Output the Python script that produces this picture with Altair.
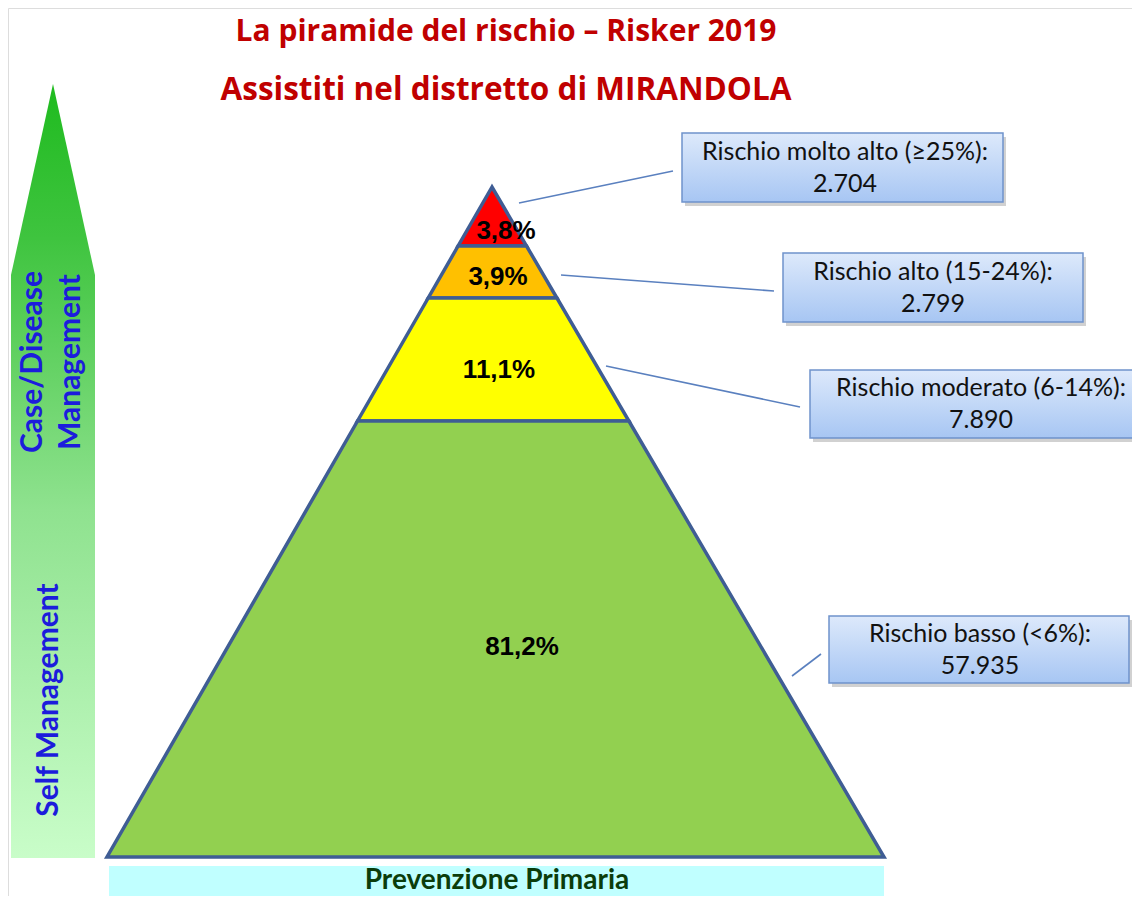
import altair as alt
import pandas as pd

# ---------------- data ----------------
title_lines = ["La piramide del rischio – Risker 2019", "Assistiti nel distretto di MIRANDOLA"]
layers = ["molto alto", "alto", "moderato", "basso"]
layer_colors = ["#ff0000", "#ffc000", "#ffff00", "#92d050"]
percent_labels = ["3,8%", "3,9%", "11,1%", "81,2%"]
box_line1 = ["Rischio molto alto (≥25%):", "Rischio alto (15-24%):", "Rischio moderato (6-14%):", "Rischio basso (<6%):"]
box_line2 = ["2.704", "2.799", "7.890", "57.935"]

# pyramid layout (page pixels)
apex = (492, 187)
base_y = 857
base_left, base_right = 107, 884
layer_bounds = [187, 246, 298, 421, 857]          # y of boundaries, top to bottom
pct_pos_x = [506, 498, 499, 522]
pct_pos_y = [231, 277, 370, 647]

# boxes: x, x2, y, y2
box_x = [682, 783, 810, 829]
box_x2 = [1003, 1083, 1142, 1129]
box_y = [133, 253, 370, 616]
box_y2 = [202, 322, 438, 683]
text_cx = [845, 933, 981, 980]
# callout lines
call_x = [519, 561, 606, 792]
call_y = [203, 275, 366, 676]
call_x2 = [673, 774, 800, 821]
call_y2 = [171, 291, 407, 654]

# left arrow outline
arrow_y = [84, 275, 858]
arrow_xl = [53, 11, 11]
arrow_xr = [53, 95, 95]

W, H = 1124, 888
xs = alt.Scale(domain=[8, 8 + W], range=[0, W])
ys = alt.Scale(domain=[8, 8 + H], range=[0, H])


def X(f):
    return alt.X(f, type="quantitative", scale=xs, axis=None)


def Y(f):
    return alt.Y(f, type="quantitative", scale=ys, axis=None)


def left_edge(y):
    return apex[0] + (base_left - apex[0]) * (y - apex[1]) / (base_y - apex[1])


def right_edge(y):
    return apex[0] + (base_right - apex[0]) * (y - apex[1]) / (base_y - apex[1])


rows = []
for i, name in enumerate(layers):
    for yy in (layer_bounds[i], layer_bounds[i + 1]):
        rows.append({"layer": name, "y": yy, "xl": left_edge(yy), "xr": right_edge(yy)})
pyr_df = pd.DataFrame(rows)

pyramid = alt.Chart(pyr_df).mark_area(
    orient="horizontal", stroke="#3f5d94", strokeWidth=3.5, strokeJoin="miter", opacity=1
).encode(
    y=Y("y"), x=X("xl"), x2="xr",
    color=alt.Color("layer:N", scale=alt.Scale(domain=layers, range=layer_colors), legend=None),
    detail="layer:N",
)

pct_df = pd.DataFrame({"t": percent_labels, "x": pct_pos_x, "y": pct_pos_y})
pct_text = alt.Chart(pct_df).mark_text(
    font="Liberation Sans", fontWeight="bold", fontSize=26, color="#000000", baseline="middle"
).encode(x=X("x"), y=Y("y"), text="t:N")

# arrow
arrow_df = pd.DataFrame({"y": arrow_y, "xl": arrow_xl, "xr": arrow_xr})
arrow = alt.Chart(arrow_df).mark_area(
    orient="horizontal",
    color=alt.Gradient(
        gradient="linear",
        stops=[
            alt.GradientStop(color="#c9fdc9", offset=0),
            alt.GradientStop(color="#8fe28f", offset=0.45),
            alt.GradientStop(color="#3fc43f", offset=0.8),
            alt.GradientStop(color="#1fbb1f", offset=1),
        ],
        x1=0, x2=0, y1=1, y2=0,
    ),
).encode(y=Y("y"), x=X("xl"), x2="xr")

side_df = pd.DataFrame({
    "t": ["Case/Disease", "Management", "Self Management"],
    "x": [33, 71, 49],
    "y": [362, 362, 700],
})
side_text = alt.Chart(side_df).mark_text(
    font="Lato", fontWeight="bold", fontSize=30, color="#1c1cdc", angle=270, baseline="middle"
).encode(x=X("x"), y=Y("y"), text="t:N")

# bottom bar
bar_df = pd.DataFrame({"x": [109], "x2": [884], "y": [866], "y2": [906], "t": ["Prevenzione Primaria"], "cx": [497], "cy": [889]})
bottom_bar = alt.Chart(bar_df).mark_rect(color="#c0ffff").encode(x=X("x"), x2="x2", y=Y("y"), y2="y2")
bottom_text = alt.Chart(bar_df).mark_text(
    font="Lato", fontWeight="bold", fontSize=28, color="#0b3d0b", baseline="alphabetic"
).encode(x=X("cx"), y=Y("cy"), text="t:N")

# title
title_df = pd.DataFrame({"t": title_lines, "x": [506, 506], "y": [32, 91], "s": [30, 31.5]})
title = alt.Chart(title_df).mark_text(
    font="Open Sans", fontWeight="bold", color="#c00000", baseline="middle"
).encode(x=X("x"), y=Y("y"), text="t:N", size=alt.Size("s:Q", scale=None, legend=None))

# callout lines
call_df = pd.DataFrame({"x": call_x, "y": call_y, "x2": call_x2, "y2": call_y2})
callouts = alt.Chart(call_df).mark_rule(color="#5a80bf", strokeWidth=1.6).encode(
    x=X("x"), y=Y("y"), x2="x2", y2="y2"
)

# boxes
box_df = pd.DataFrame({
    "x": box_x, "x2": box_x2, "y": box_y, "y2": box_y2,
    "sx": [v + 3 for v in box_x], "sx2": [v + 3 for v in box_x2],
    "sy": [v + 4 for v in box_y], "sy2": [v + 4 for v in box_y2],
    "cx": text_cx,
    "l1y": [(a + b) / 2 - 16 for a, b in zip(box_y, box_y2)],
    "l2y": [(a + b) / 2 + 16 for a, b in zip(box_y, box_y2)],
    "t1": box_line1, "t2": box_line2,
})
shadow = alt.Chart(box_df).mark_rect(color="#9a9a9a", opacity=0.45).encode(
    x=X("sx"), x2="sx2", y=Y("sy"), y2="sy2"
)
boxes = alt.Chart(box_df).mark_rect(
    color=alt.Gradient(
        gradient="linear",
        stops=[alt.GradientStop(color="#dde9fb", offset=0), alt.GradientStop(color="#a7c6f3", offset=1)],
        x1=0, x2=0, y1=0, y2=1,
    ),
    stroke="#6f93cc", strokeWidth=1.5,
).encode(x=X("x"), x2="x2", y=Y("y"), y2="y2")
box_t1 = alt.Chart(box_df).mark_text(
    font="Lato", fontSize=25, color="#111111", baseline="middle"
).encode(x=X("cx"), y=Y("l1y"), text="t1:N")
box_t2 = alt.Chart(box_df).mark_text(
    font="Lato", fontSize=25, color="#111111", baseline="middle"
).encode(x=X("cx"), y=Y("l2y"), text="t2:N")

chart = alt.layer(
    arrow, side_text, bottom_bar, bottom_text, pyramid, pct_text, title,
    callouts, shadow, boxes, box_t1, box_t2,
).properties(
    width=W, height=H, autosize=alt.AutoSizeParams(type="none"), padding=0
).configure_view(strokeWidth=0, stroke="transparent").configure(background="#ffffff")

chart.save("out.html", embed_options={"renderer": "svg", "actions": False})
